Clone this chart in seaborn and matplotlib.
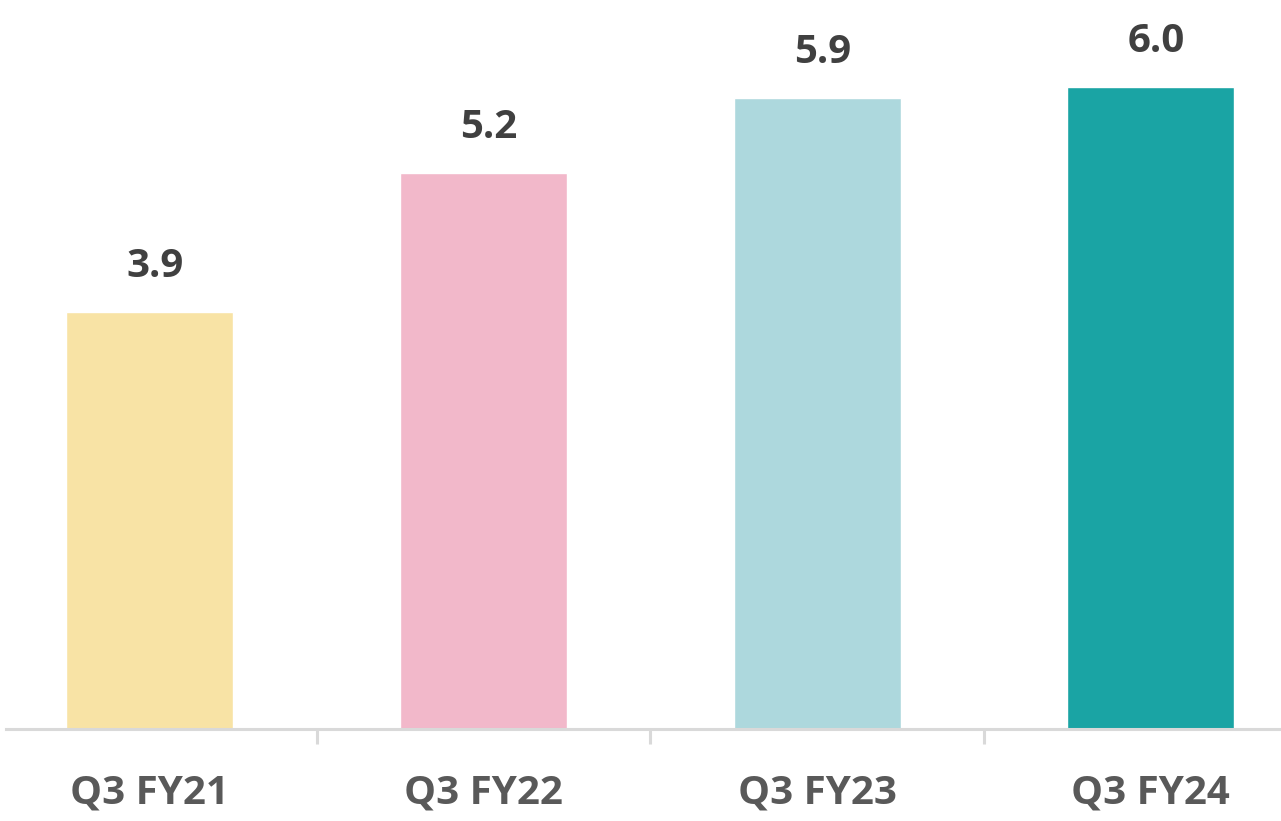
import matplotlib
matplotlib.use("Agg")
import matplotlib.pyplot as plt
import seaborn as sns
import pandas as pd
from matplotlib.ticker import FixedLocator

categories = ["Q3 FY21", "Q3 FY22", "Q3 FY23", "Q3 FY24"]
values = [3.9, 5.2, 5.9, 6.0]
colors = ["#F8E3A5", "#F2B8CA", "#ADD8DD", "#1AA4A4"]

sns.set_theme(style="white")
plt.rcParams["font.family"] = ["Open Sans", "DejaVu Sans"]

df = pd.DataFrame({"cat": categories, "val": values})

fig = plt.figure(figsize=(12.81, 8.21), dpi=100)
ax = fig.add_axes([6 / 1281, 92 / 821, 1 - 6 / 1281, 729 / 821])

sns.barplot(data=df, x="cat", y="val", hue="cat", palette=colors,
            width=0.5, saturation=1, legend=False, ax=ax)

ax.set_xlim(-0.431, 3.39)
ax.set_ylim(0, 6.813)

for s in ["top", "right", "left"]:
    ax.spines[s].set_visible(False)
ax.spines["bottom"].set_color("#D9D9D9")
ax.spines["bottom"].set_linewidth(2.2)
ax.set_yticks([])
ax.set_xlabel("")
ax.set_ylabel("")

ax.xaxis.set_minor_locator(FixedLocator([0.5, 1.5, 2.5]))
ax.tick_params(axis="x", which="minor", bottom=True, length=10.5, width=2.2,
               color="#D9D9D9", direction="out")
ax.tick_params(axis="x", which="major", bottom=False, length=0, pad=32,
               labelsize=29, labelcolor="#595959")
for lab in ax.get_xticklabels():
    lab.set_fontweight("bold")

for i, v in enumerate(values):
    ax.annotate(f"{v:.1f}", xy=(i, v), xytext=(4, 25), textcoords="offset points",
                ha="center", va="baseline", fontsize=29, fontweight="bold",
                color="#404040")

fig.savefig("out.png", dpi=100)
